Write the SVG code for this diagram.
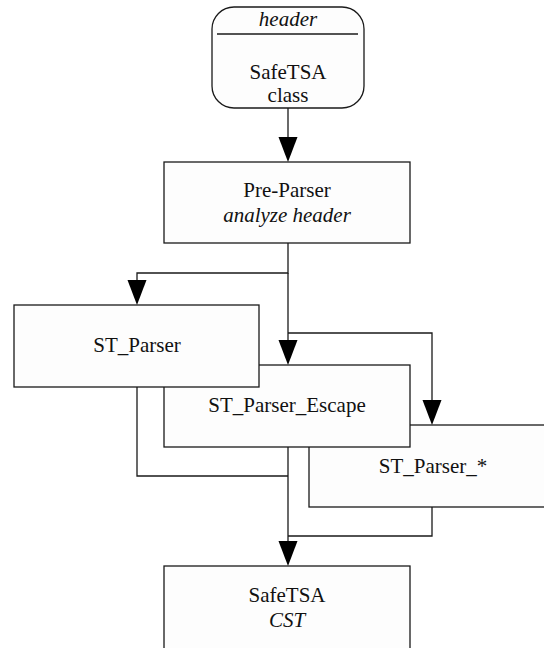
<svg xmlns="http://www.w3.org/2000/svg" width="544" height="648" viewBox="0 0 544 648">
  <style>
    .box { fill: #fdfdfd; stroke: #1a1a1a; stroke-width: 1.3; }
    .edge { fill: none; stroke: #1a1a1a; stroke-width: 1.3; }
    .head { fill: #000; stroke: none; }
    text { font-family: "Liberation Serif", "Times New Roman", serif; font-size: 21px; fill: #111; text-anchor: middle; }
    .it { font-style: italic; }
  </style>
  <defs>
    <!-- filled triangular arrowhead, tip at the origin pointing down -->
    <path id="ah" class="head" d="M -9.5 -25 L 9.5 -25 L 0 0 Z"/>
  </defs>

  <rect width="544" height="648" fill="#ffffff"/>

  <g id="connectors">
    <!-- class file into pre-parser -->
    <line class="edge" x1="288" y1="108" x2="288" y2="140"/>
    <use href="#ah" x="288" y="162"/>
    <!-- pre-parser fans out to the three parsers -->
    <polyline class="edge" points="288,243 288,273 137,273 137,285"/>
    <use href="#ah" x="137" y="305"/>
    <line class="edge" x1="288" y1="273" x2="288" y2="345"/>
    <use href="#ah" x="288" y="365"/>
    <polyline class="edge" points="288,333 432,333 432,405"/>
    <use href="#ah" x="432" y="425"/>
    <!-- parsers merge into the CST -->
    <polyline class="edge" points="137,387 137,476 288,476"/>
    <polyline class="edge" points="432,507 432,536 288,536"/>
    <line class="edge" x1="288" y1="447" x2="288" y2="546"/>
    <use href="#ah" x="288" y="566"/>
  </g>

  <g id="header-class">
    <rect class="box" x="212" y="7" width="152" height="101" rx="22" ry="22"/>
    <line class="edge" x1="217" y1="34" x2="358" y2="34"/>
    <text class="it" x="288" y="26">header</text>
    <text x="288" y="79">SafeTSA</text>
    <text x="288" y="102">class</text>
  </g>

  <g id="pre-parser">
    <rect class="box" x="164" y="162" width="246" height="81"/>
    <text x="287" y="197">Pre-Parser</text>
    <text class="it" x="287" y="222">analyze header</text>
  </g>

  <g id="st-parser-star">
    <rect class="box" x="309" y="425" width="248" height="82"/>
    <text x="433" y="473">ST_Parser_*</text>
  </g>

  <g id="st-parser-escape">
    <rect class="box" x="164" y="365" width="246" height="82"/>
    <text x="287" y="412">ST_Parser_Escape</text>
  </g>

  <g id="st-parser">
    <rect class="box" x="14" y="305" width="245" height="82"/>
    <text x="137" y="352">ST_Parser</text>
  </g>

  <g id="safetsa-cst">
    <rect class="box" x="164" y="566" width="246" height="90"/>
    <text x="287" y="602">SafeTSA</text>
    <text class="it" x="287" y="627">CST</text>
  </g>
</svg>
